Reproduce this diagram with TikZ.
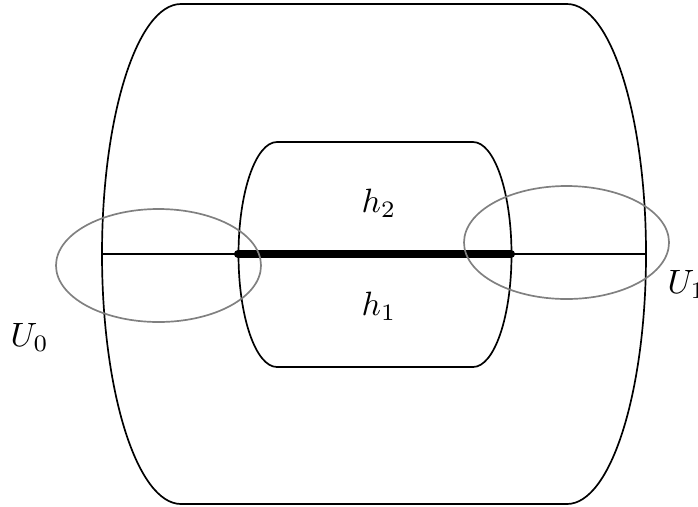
\documentclass[tikz,border=0pt]{standalone}
\begin{document}
\begin{tikzpicture}[
  x=0.2966pt, y=-0.2966pt,
  region/.style={draw, line width=0.5pt},
  nbhd/.style={draw=gray, line width=0.5pt},
  core/.style={draw, line width=2.4pt, line cap=round},
  lbl/.style={inner sep=0pt}
]
\useasboundingbox (0,0) rectangle (698,506);
% outer region
\draw[region] (181,4) -- (567,4)
  arc[start angle=-90, end angle=90, x radius=79, y radius=250]
  -- (181,504)
  arc[start angle=90, end angle=270, x radius=79, y radius=250] -- cycle;
% inner region
\draw[region] (277,142) -- (473,142)
  arc[start angle=-90, end angle=90, x radius=38.5, y radius=112.5]
  -- (277,367)
  arc[start angle=90, end angle=270, x radius=38.5, y radius=112.5] -- cycle;
% axis
\coordinate (a0) at (102,254);
\coordinate (a1) at (238,254);
\coordinate (b1) at (511,254);
\coordinate (b0) at (646,254);
\draw[region] (a0) -- (a1);
\draw[core] (a1) -- (b1);
\draw[region] (b1) -- (b0);
% neighbourhoods
\draw[nbhd] (158.5,265.5) ellipse[x radius=102.5, y radius=56.5];
\draw[nbhd] (566.5,242.5) ellipse[x radius=102.5, y radius=56.5];
% labels
\node[lbl, anchor=base west] (U0) at (10,346) {$U_0$};
\node[lbl, anchor=base west] (U1) at (667,293) {$U_1$};
\node[lbl, anchor=base] (h2) at (379,212) {$h_2$};
\node[lbl, anchor=base] (h1) at (379,315) {$h_1$};
\end{tikzpicture}
\end{document}
